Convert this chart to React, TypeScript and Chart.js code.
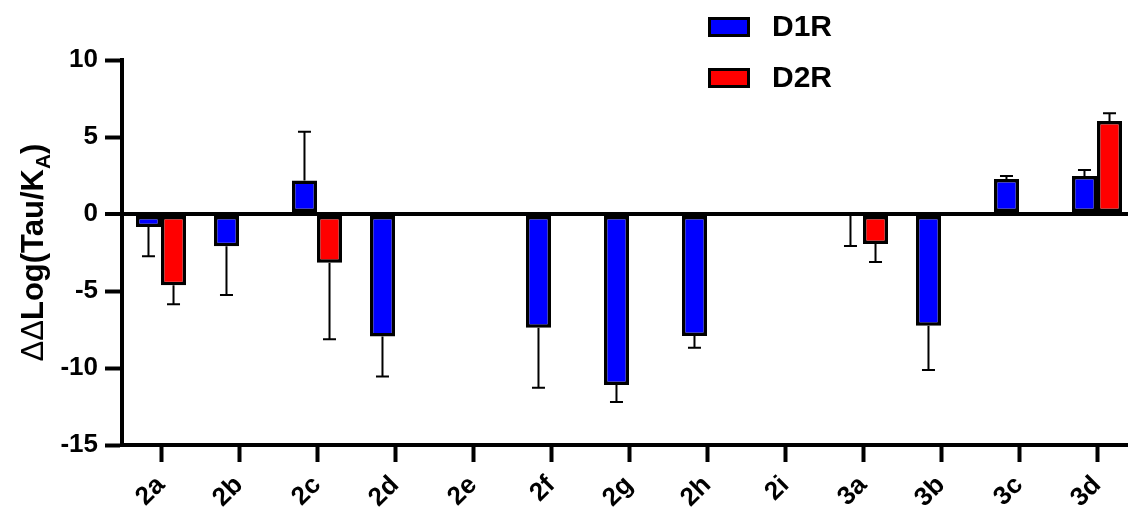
import React, { useEffect, useRef } from "react";
import { Chart, registerables } from "chart.js";

Chart.register(...registerables);

const categories = ["2a", "2b", "2c", "2d", "2e", "2f", "2g", "2h", "2i", "3a", "3b", "3c", "3d"];
const d1rValues = [-0.85, -2.1, 2.18, -7.95, null, -7.38, -11.1, -7.92, null, 0, -7.25, 2.27, 2.47];
const d1rErrors = [1.9, 3.16, 3.16, 2.6, null, 3.9, 1.1, 0.76, null, 2.08, 2.88, 0.2, 0.39];
const d2rValues = [-4.62, null, -3.16, null, null, null, null, null, null, -1.95, null, null, 6.04];
const d2rErrors = [1.24, null, 4.98, null, null, null, null, null, null, 1.17, null, null, 0.5];
const seriesLabels = ["D1R", "D2R"];
const seriesColors = ["#0000FF", "#FF0000"];
const yTicks = { min: -15, max: 10, step: 5 };

const FONT = "'Liberation Sans', Arial, Helvetica, sans-serif";

const errorBarPlugin = {
  id: "errorBars",
  afterDatasetsDraw(chart: any) {
    const ctx = chart.ctx;
    const yScale = chart.scales.y;
    chart.data.datasets.forEach((ds: any, di: number) => {
      const meta = chart.getDatasetMeta(di);
      meta.data.forEach((bar: any, i: number) => {
        const v = ds.data[i];
        const e = ds.errors ? ds.errors[i] : null;
        if (v == null || e == null) return;
        const dir = v > 0 ? 1 : -1;
        const y0 = yScale.getPixelForValue(v);
        const y1 = yScale.getPixelForValue(v + dir * e);
        ctx.save();
        ctx.strokeStyle = "#000";
        ctx.lineWidth = 2;
        ctx.beginPath();
        ctx.moveTo(bar.x, y0);
        ctx.lineTo(bar.x, y1);
        ctx.moveTo(bar.x - 6.5, y1);
        ctx.lineTo(bar.x + 6.5, y1);
        ctx.stroke();
        ctx.restore();
      });
    });
  },
};

const legendPlugin = {
  id: "customLegend",
  afterDraw(chart: any) {
    const ctx = chart.ctx;
    chart.data.datasets.forEach((ds: any, i: number) => {
      const y = 17 + i * 51;
      ctx.save();
      ctx.fillStyle = ds.backgroundColor;
      ctx.fillRect(708, y, 42, 20);
      ctx.strokeStyle = "#000";
      ctx.lineWidth = 3;
      ctx.strokeRect(709.5, y + 1.5, 39, 17);
      ctx.fillStyle = "#000";
      ctx.font = `bold 30px ${FONT}`;
      ctx.textBaseline = "middle";
      ctx.textAlign = "left";
      ctx.fillText(ds.label, 772, y + 11);
      ctx.restore();
    });
  },
};

const yTitlePlugin = {
  id: "yTitle",
  afterDraw(chart: any) {
    const ctx = chart.ctx;
    const area = chart.chartArea;
    const cy = (area.top + area.bottom) / 2;
    const parts = [
      { t: "ΔΔ", font: `normal 31px ${FONT}`, dy: 0 },
      { t: "Log(Tau/K", font: `bold 31px ${FONT}`, dy: 0 },
      { t: "A", font: `bold 21px ${FONT}`, dy: 7 },
      { t: ")", font: `bold 31px ${FONT}`, dy: 0 },
    ];
    ctx.save();
    ctx.translate(43, cy);
    ctx.rotate(-Math.PI / 2);
    ctx.fillStyle = "#000";
    ctx.textBaseline = "alphabetic";
    ctx.textAlign = "left";
    let total = 0;
    const widths = parts.map((p) => {
      ctx.font = p.font;
      const w = ctx.measureText(p.t).width;
      total += w;
      return w;
    });
    let x = -total / 2;
    parts.forEach((p, i) => {
      ctx.font = p.font;
      ctx.fillText(p.t, x, p.dy);
      x += widths[i];
    });
    ctx.restore();
  },
};

export default function App() {
  const canvasRef = useRef<HTMLCanvasElement | null>(null);

  useEffect(() => {
    if (!canvasRef.current) return;
    const chart = new Chart(canvasRef.current, {
      type: "bar",
      data: {
        labels: categories,
        datasets: [
          {
            label: seriesLabels[0],
            data: d1rValues,
            errors: d1rErrors,
            backgroundColor: seriesColors[0],
            borderColor: "#000",
            borderWidth: 3.5,
            borderSkipped: false,
            categoryPercentage: 0.642,
            barPercentage: 1.0,
          } as any,
          {
            label: seriesLabels[1],
            data: d2rValues,
            errors: d2rErrors,
            backgroundColor: seriesColors[1],
            borderColor: "#000",
            borderWidth: 3.5,
            borderSkipped: false,
            categoryPercentage: 0.642,
            barPercentage: 1.0,
          } as any,
        ],
      },
      options: {
        responsive: false,
        animation: false,
        devicePixelRatio: 1,
        layout: { padding: { top: 60, right: 4, left: 0, bottom: 0 } },
        plugins: {
          legend: { display: false },
          tooltip: { enabled: false },
        },
        scales: {
          x: {
            offset: true,
            grid: {
              display: true,
              drawOnChartArea: false,
              offset: false,
              tickLength: 17,
              tickColor: "#000",
              tickWidth: 4,
            },
            border: { display: true, color: "#000", width: 4 },
            ticks: {
              autoSkip: false,
              minRotation: 45,
              maxRotation: 45,
              color: "#000",
              padding: 8,
              font: { family: FONT, size: 26, weight: "bold" },
            },
            afterFit: (s: any) => {
              s.height = 65;
            },
          },
          y: {
            min: yTicks.min,
            max: yTicks.max,
            ticks: {
              stepSize: yTicks.step,
              color: "#000",
              padding: 7,
              font: { family: FONT, size: 26, weight: "bold" },
            },
            grid: {
              drawOnChartArea: true,
              color: (c: any) => (c.tick && c.tick.value === 0 ? "#000" : "rgba(0,0,0,0)"),
              lineWidth: (c: any) => (c.tick && c.tick.value === 0 ? 4 : 1),
              tickColor: "#000",
              tickLength: 17,
              tickWidth: 4,
            },
            border: { display: true, color: "#000", width: 4 },
            afterFit: (s: any) => {
              s.width = 122;
            },
          },
        },
      } as any,
      plugins: [errorBarPlugin, legendPlugin, yTitlePlugin],
    });
    return () => chart.destroy();
  }, []);

  return (
    <div
      style={{
        position: "fixed",
        left: 0,
        top: 0,
        width: 1128,
        height: 510,
        overflow: "hidden",
        background: "#fff",
      }}
    >
      <canvas ref={canvasRef} width={1140} height={510} style={{ display: "block" }} />
    </div>
  );
}
